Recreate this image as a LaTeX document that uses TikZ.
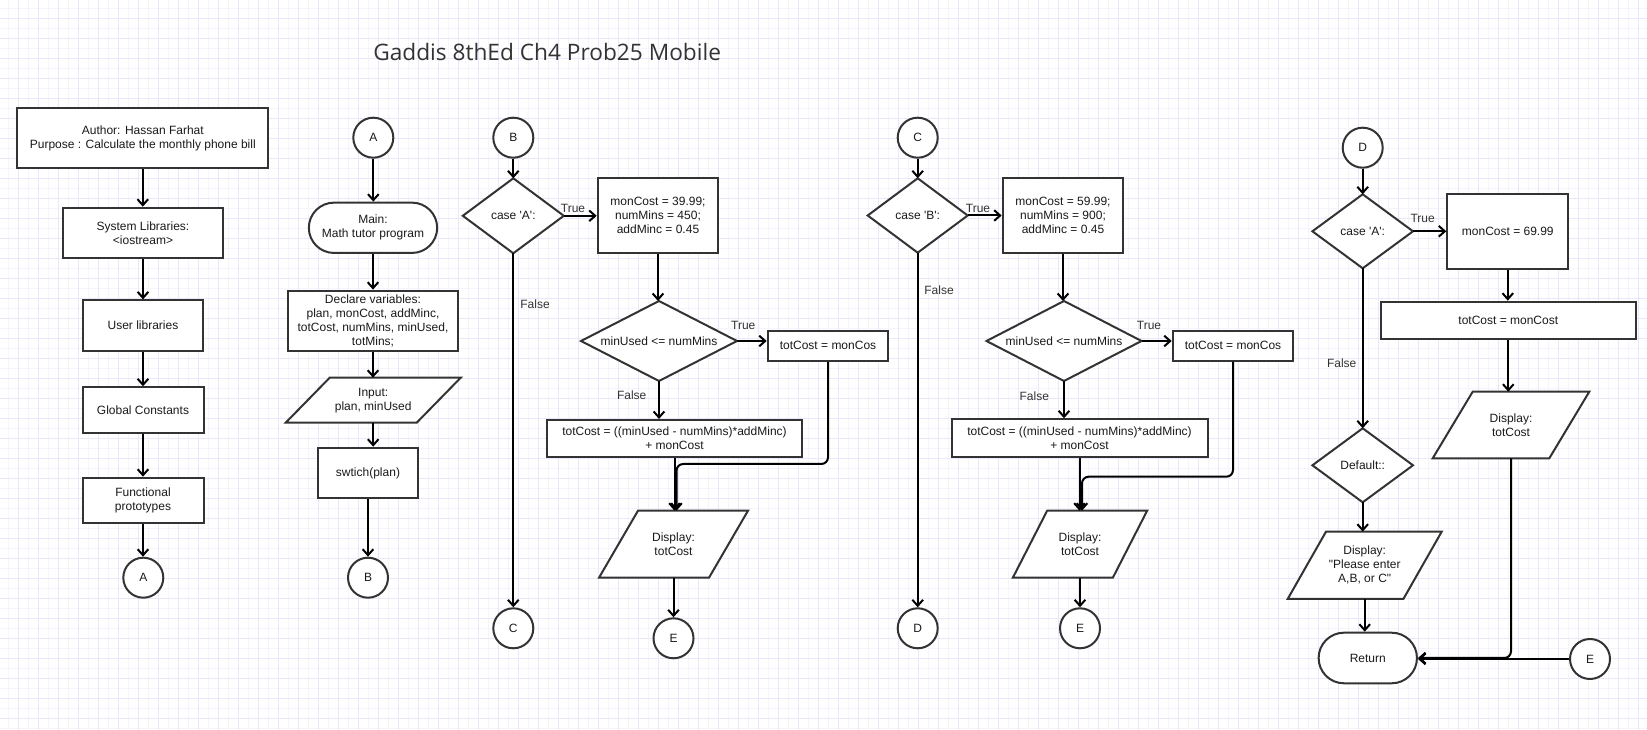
\documentclass[tikz,border=0pt]{standalone}
\usepackage{fontspec}
\setmainfont{Liberation Sans}
\newfontfamily\titlefont{Open Sans}
\usetikzlibrary{arrows.meta,shapes.misc,calc}
\definecolor{shapecol}{HTML}{333333}
\definecolor{txt}{HTML}{1A1A1A}
\definecolor{lblcol}{HTML}{333333}
\definecolor{gridmin}{HTML}{F5F4FD}
\definecolor{gridmaj}{HTML}{E9E7FA}
\pgfdeclarelayer{bg}
\pgfdeclarelayer{shp}
\pgfsetlayers{bg,shp,main}
\newcommand\fs{\fontsize{9}{10.5}\selectfont}
\tikzset{
  shp/.style={draw=shapecol, line width=1.5pt, fill=white, text=txt, font=\fs, align=center, inner sep=1pt},
  box/.style 2 args={shp, rectangle, minimum width=#1*0.75pt, minimum height=#2*0.75pt},
  term/.style 2 args={shp, rounded rectangle, minimum width=#1*0.75pt, minimum height=#2*0.75pt},
  conn/.style={shp, circle, minimum size=30pt, inner sep=0pt},
  ghost/.style 2 args={rectangle, inner sep=0pt, outer sep=0pt, align=center, font=\fs, text=txt, minimum width=#1*0.75pt, minimum height=#2*0.75pt},
  shapeline/.style={draw=shapecol, line width=1.5pt, fill=white},
  arr/.style={line width=1.5pt, draw=black, -{Straight Barb[length=4.5pt,width=8pt]}},
  lbl/.style={font=\fs, text=lblcol, inner sep=0pt},
  gmin/.style={draw=gridmin, line width=0.75pt},
  gmaj/.style={draw=gridmaj, line width=0.75pt}
}
\newcommand\diamshape[1]{\begin{pgfonlayer}{shp}\draw[shapeline] (#1.north) -- (#1.east) -- (#1.south) -- (#1.west) -- cycle;\end{pgfonlayer}}
\newcommand\parashape[2]{\begin{pgfonlayer}{shp}\draw[shapeline] ($(#1.north west)+(#2,0)$) -- (#1.north east) -- ($(#1.south east)-(#2,0)$) -- (#1.south west) -- cycle;\end{pgfonlayer}}
\newcommand\vdown[2]{\draw[arr] (#1.south) -- (#1.south |- #2.north);}
\begin{document}
\begin{tikzpicture}[x=0.75pt,y=-0.75pt]
\useasboundingbox (0,0) rectangle (1647,730);
\begin{pgfonlayer}{bg}
\fill[white] (0,0) rectangle (1647,730);
\foreach \i in {8,28,...,1648} \draw[gmin] (\i,0) -- (\i,730);
\foreach \j in {9,29,...,730} \draw[gmin] (0,\j) -- (1647,\j);
\foreach \i in {18,38,...,1648} \draw[gmaj] (\i,0) -- (\i,730);
\foreach \j in {19,39,...,730} \draw[gmaj] (0,\j) -- (1647,\j);
\end{pgfonlayer}

% title
\node[anchor=base west, inner sep=0pt, font=\titlefont\fontsize{17}{20}\selectfont, text=shapecol] (title) at (373,61) {Gaddis 8thEd Ch4 Prob25 Mobile};

% column 1
\node[box={251}{60.6}] (author) at (142.8,138) {Author: Hassan Farhat\\Purpose : Calculate the monthly phone bill};
\node[box={160.6}{50.6}] (syslib) at (143,233) {System Libraries:\\<iostream>};
\node[box={120.6}{50.7}] (userlib) at (143,325.7) {User libraries};
\node[box={121}{45.4}] (glob) at (143,410) {Global Constants};
\node[box={121}{45.6}] (func) at (143,500.5) {Functional\\prototypes};
\node[conn] (cA1) at (143.3,577.7) {A};

% column 2
\node[conn] (cA2) at (373.3,137.7) {A};
\node[term={131}{50.3}] (main) at (373,227.8) {Main:\\Math tutor program};
\node[box={170.6}{60.3}] (decl) at (373,320.8) {Declare variables:\\plan, monCost, addMinc,\\totCost, numMins, minUsed,\\totMins;};
\node[ghost={175}{45}] (input) at (373.2,400.2) {Input:\\plan, minUsed}; \parashape{input}{44}
\node[box={100.6}{50.6}] (switch) at (368,473) {swtich(plan)};
\node[conn] (cB1) at (368,577.7) {B};

% column 3
\node[conn] (cB2) at (513.3,137.7) {B};
\node[ghost={101}{75}] (dA) at (513.3,215.8) {case \textquotesingle A\textquotesingle:}; \diamshape{dA}
\node[box={120.6}{75.6}] (box1) at (658,215.5) {monCost = 39.99;\\numMins = 450;\\addMinc = 0.45};
\node[ghost={156}{80}] (dM1) at (659,341) {minUsed <= numMins}; \diamshape{dM1}
\node[box={120.6}{30.3}] (mc1) at (828,345.8) {totCost = monCos};
\node[box={255.6}{37}] (form1) at (674.5,438.5) {totCost = ((minUsed - numMins)*addMinc)\\+ monCost};
\node[ghost={149}{67}] (disp1) at (673.5,544.2) {Display:\\totCost}; \parashape{disp1}{39}
\node[conn] (cE1) at (673.5,638.3) {E};
\node[conn] (cC1) at (513.3,628.3) {C};
\coordinate (j1) at (676.5,464);

% column 4
\node[conn] (cC2) at (917.7,137.7) {C};
\node[ghost={100}{74.4}] (dB) at (917.7,215.5) {case \textquotesingle B\textquotesingle:}; \diamshape{dB}
\node[box={120.6}{75.6}] (box2) at (1063,215.5) {monCost = 59.99;\\numMins = 900;\\addMinc = 0.45};
\node[ghost={155}{80}] (dM2) at (1064,341) {minUsed <= numMins}; \diamshape{dM2}
\node[box={120.6}{30.3}] (mc2) at (1233,345.8) {totCost = monCos};
\node[box={256}{38}] (form2) at (1079.5,438.3) {totCost = ((minUsed - numMins)*addMinc)\\+ monCost};
\node[ghost={134.3}{67}] (disp2) at (1080,544.2) {Display:\\totCost}; \parashape{disp2}{34.3}
\node[conn] (cE2) at (1080,628.3) {E};
\node[conn] (cD1) at (917.7,628.3) {D};
\coordinate (j2) at (1082,476.7);

% column 5
\node[conn] (cD2) at (1362.7,147.7) {D};
\node[ghost={100.6}{74}] (dA2) at (1362.7,231.3) {case \textquotesingle A\textquotesingle:}; \diamshape{dA2}
\node[box={121}{75}] (box3) at (1507.8,231.5) {monCost = 69.99};
\node[box={255.3}{37.3}] (tc3) at (1508.3,320.3) {totCost = monCost};
\node[ghost={156.6}{66.6}] (disp3) at (1511,425) {Display:\\totCost}; \parashape{disp3}{40}
\node[ghost={100.6}{74}] (ddef) at (1362.7,465.3) {Default::}; \diamshape{ddef}
\node[ghost={154}{67.3}] (disp4) at (1364.7,565.3) {Display:\\\textquotedbl Please enter\\A,B, or C\textquotedbl}; \parashape{disp4}{38.3}
\node[term={101}{50.6}] (ret) at (1367.8,658) {Return};
\node[conn] (cE3) at (1590,659) {E};

% connectors column 1
\vdown{author}{syslib}
\vdown{syslib}{userlib}
\vdown{userlib}{glob}
\vdown{glob}{func}
\vdown{func}{cA1}
% column 2
\vdown{cA2}{main}
\vdown{main}{decl}
\vdown{decl}{input}
\vdown{input}{switch}
\vdown{switch}{cB1}
% column 3
\vdown{cB2}{dA}
\draw[arr] (dA.east) -- (dA.east -| box1.west);
\vdown{box1}{dM1}
\draw[arr] (dM1.east) -- (dM1.east -| mc1.west);
\vdown{dM1}{form1}
\vdown{dA}{cC1}
\vdown{form1}{disp1}
\draw[arr, rounded corners=5pt] (mc1.south) |- (j1) -- (j1 |- disp1.north);
\vdown{disp1}{cE1}
% column 4
\vdown{cC2}{dB}
\draw[arr] (dB.east) -- (dB.east -| box2.west);
\vdown{box2}{dM2}
\draw[arr] (dM2.east) -- (dM2.east -| mc2.west);
\vdown{dM2}{form2}
\vdown{dB}{cD1}
\vdown{form2}{disp2}
\draw[arr, rounded corners=5pt] (mc2.south) |- (j2) -- (j2 |- disp2.north);
\vdown{disp2}{cE2}
% column 5
\vdown{cD2}{dA2}
\draw[arr] (dA2.east) -- (dA2.east -| box3.west);
\vdown{box3}{tc3}
\vdown{tc3}{disp3}
\vdown{dA2}{ddef}
\vdown{ddef}{disp4}
\vdown{disp4}{ret}
\draw[arr, rounded corners=5pt] (disp3.south) |- (ret.east);
\draw[arr] (cE3.west) -- (cE3.west -| ret.east);

% labels
\node[lbl] at (573,208.3) {True};
\node[lbl] at (743.3,325.7) {True};
\node[lbl] at (535,304.7) {False};
\node[lbl] at (631.7,395.7) {False};
\node[lbl] at (978,208.3) {True};
\node[lbl] at (1149,325.7) {True};
\node[lbl] at (939,290.7) {False};
\node[lbl] at (1034.3,396) {False};
\node[lbl] at (1422.7,218.3) {True};
\node[lbl] at (1341.7,363.3) {False};
\end{tikzpicture}
\end{document}
